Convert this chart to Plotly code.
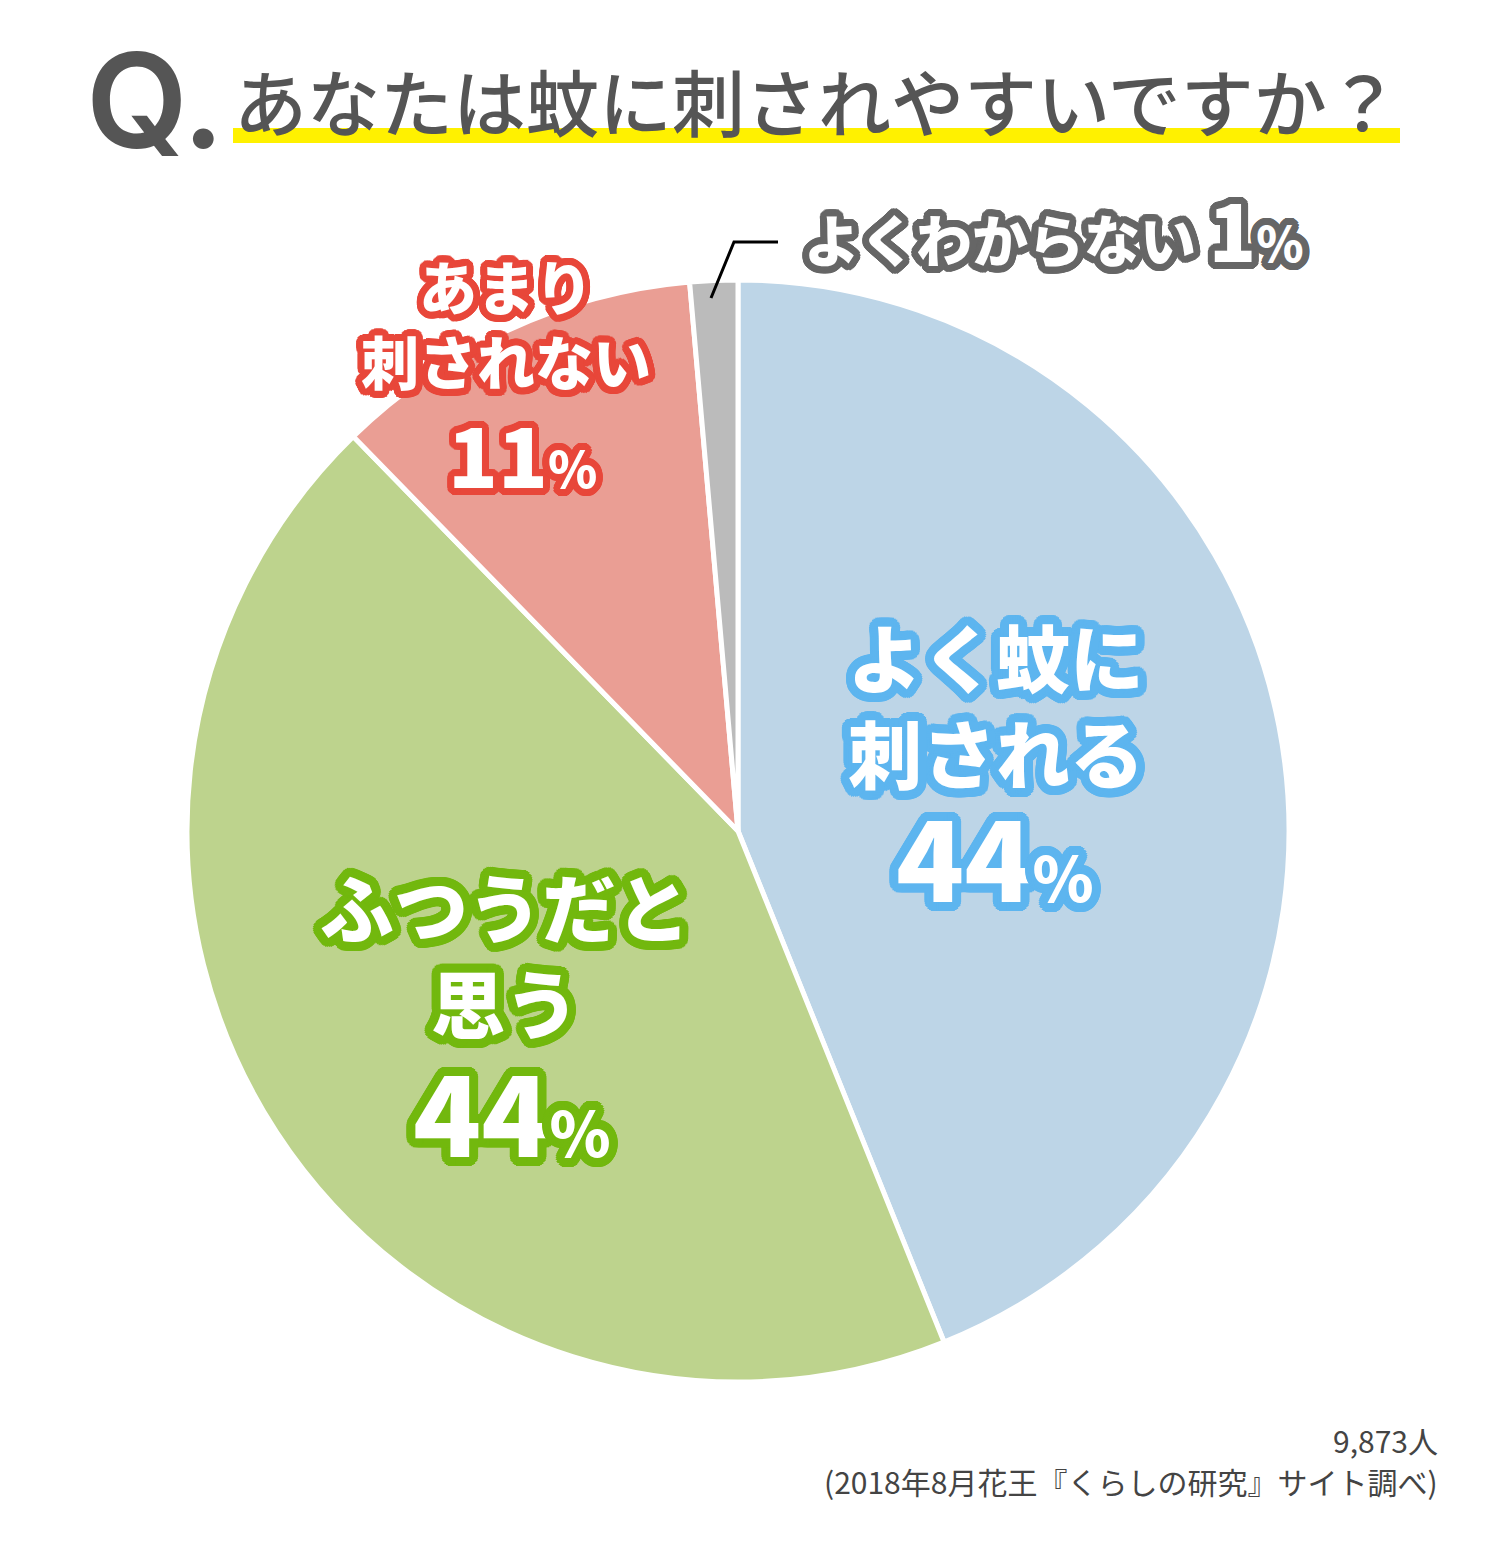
import math
import plotly.graph_objects as go

W, H = 1490, 1546
OFF = 8  # page body margin

# ---- data ----
categories = ["よく蚊に刺される", "ふつうだと思う", "あまり刺されない", "よくわからない"]
values = [43.9, 43.8, 10.9, 1.4]
pct_labels = ["44", "44", "11", "1"]
colors = ["#BDD5E7", "#BDD38D", "#EA9E94", "#BBBBBB"]
outline = ["#5DB5EF", "#72B80E", "#E8473A", "#666666"]
label_lines = [["よく蚊に", "刺される"], ["ふつうだと", "思う"], ["あまり", "刺されない"], ["よくわからない"]]

title_q = "Q."
title_text = "あなたは蚊に刺されやすいですか？"
footer1 = "9,873人"
footer2 = "(2018年8月花王『くらしの研究』サイト調べ)"

JP = "Noto Sans CJK JP"


def px(x):
    return (x - OFF) / W


def py(y):
    return 1 - (y - OFF) / H


def stroke(color, r):
    parts = []
    for rad, n in ((r, 30), (r * 0.66, 20), (r * 0.33, 10)):
        for i in range(n):
            a = 2 * math.pi * i / n
            parts.append(f"{rad*math.cos(a):.1f}px {rad*math.sin(a):.1f}px 0 {color}")
    return ", ".join(parts)


cx, cy, R = 738, 831, 551
fig = go.Figure(go.Pie(
    labels=categories, values=values, sort=False, direction="clockwise", rotation=0,
    marker=dict(colors=colors, line=dict(color="white", width=5)),
    textinfo="none", hoverinfo="skip", showlegend=False,
    domain=dict(x=[px(cx - R), px(cx + R)], y=[py(cy + R), py(cy - R)]),
))

ann = []


def add(text, x, y, size, color="white", shadow=None, xanchor="center", weight=900, family=JP, yanchor="middle"):
    f = dict(family=family, size=size, color=color, weight=weight)
    if shadow:
        f["shadow"] = shadow
    ann.append(dict(text=text, x=px(x), y=py(y), xref="paper", yref="paper",
                    xanchor=xanchor, yanchor=yanchor, showarrow=False, font=f))


def pct(num, small):
    return f"{num}<span style=\"font-size:{small}px\">%</span>"


# Title
add(title_q, 84, 100, 132, color="#555555", xanchor="left", family="Inter", weight=600)
add(title_text, 232, 99, 73, color="#555555", xanchor="left", weight=500)

# Blue
sb = stroke(outline[0], 9)
add("<br>".join(label_lines[0]), 996, 702, 74, shadow=sb)
add(pct(pct_labels[0], 62), 995, 853, 112, shadow=sb)

# Green
sg = stroke(outline[1], 9)
add("<br>".join(label_lines[1]), 505, 952, 74, shadow=sg)
add(pct(pct_labels[1], 62), 512, 1108, 112, shadow=sg)

# Pink
sp = stroke(outline[2], 7)
add("<br>".join(label_lines[2]), 506, 322, 58, shadow=sp)
add(pct(pct_labels[2], 50), 522, 452, 82, shadow=sp)

# Gray
sgr = stroke(outline[3], 7)
gray_txt = (label_lines[3][0] + " <span style=\"font-size:78px\">" + pct_labels[3] +
            "</span><span style=\"font-size:48px\">%</span>")
add(gray_txt, 1054, 228, 56, shadow=sgr)

# Footer
add(footer1, 1440, 1440, 30, color="#444444", xanchor="right", weight=400)
add(footer2, 1440, 1481, 30, color="#444444", xanchor="right", weight=400)

shapes = [
    dict(type="rect", xref="paper", yref="paper", x0=px(233), x1=px(1400), y0=py(143), y1=py(128),
         fillcolor="#FFF100", line=dict(width=0), layer="below"),
    dict(type="path", xref="paper", yref="paper",
         path=f"M {px(711)} {py(298)} L {px(734)} {py(242)} L {px(778)} {py(242)}",
         line=dict(color="black", width=3)),
]

fig.update_layout(width=W, height=H, margin=dict(l=0, r=0, t=0, b=0),
                  paper_bgcolor="white", plot_bgcolor="white",
                  annotations=ann, shapes=shapes)
fig.write_html("out.html")
